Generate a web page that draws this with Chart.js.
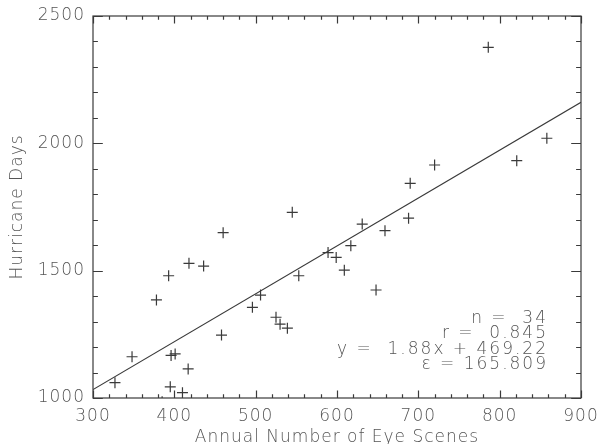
<!DOCTYPE html>
<html>
<head>
<meta charset="utf-8">
<script src="https://cdn.jsdelivr.net/npm/chart.js@4/dist/chart.umd.min.js"></script>
<style>
  html, body { margin: 0; padding: 0; background: #fff; }
  #wrap { width: 598px; height: 444px; }
</style>
</head>
<body>
<div id="wrap"><canvas id="chart" width="598" height="444"></canvas></div>
<script>
// annual number of eye scenes vs hurricane days
const eyeScenes = [327, 348, 378, 393, 418, 436, 396, 401, 417, 395, 410, 385,
  460, 545, 506, 496, 553, 458, 525, 530, 539, 589, 599, 720, 690, 688, 659, 631,
  617, 609, 648, 786, 858, 821];
const hurricaneDays = [1060, 1162, 1385, 1480, 1529, 1518, 1167, 1173, 1114, 1044,
  1021, 985, 1649, 1729, 1404, 1356, 1480, 1247, 1317, 1290, 1274, 1571, 1552,
  1915, 1843, 1706, 1657, 1683, 1598, 1502, 1424, 2377, 2020, 1932];

// least squares line, ends as drawn
const fitX = [300, 900];
const fitY = [1033, 2161];

const xTicks = [300, 400, 500, 600, 700, 800, 900];
const yTicks = [1000, 1500, 2000, 2500];
const statLines = ['n =  34', 'r =  0.845', 'y =  1.88x + 469.22', '\u03B5 = 165.809'];

const ink = '#3a3a3a';
const textInk = '#555';
const fontFamily = "'DejaVu Sans', 'Liberation Sans', sans-serif";

Chart.defaults.font.family = fontFamily;
Chart.defaults.color = textInk;

// IDL style box: inward ticks on all four sides + fit stats
const boxPlugin = {
  id: 'box',
  beforeDraw(chart) {
    // the old hershey font is set wide
    chart.ctx.letterSpacing = '1px';
  },
  afterDatasetsDraw(chart) {
    const { ctx, chartArea: a, scales: { x, y } } = chart;
    ctx.save();
    ctx.strokeStyle = ink;
    ctx.lineWidth = 1.2;
    ctx.strokeRect(a.left, a.top, a.right - a.left, a.bottom - a.top);
    ctx.beginPath();
    for (let v = x.min; v <= x.max; v += 20) {
      const px = Math.round(x.getPixelForValue(v)) + 0.5;
      const len = v % 100 === 0 ? 7.5 : 3.8;
      ctx.moveTo(px, a.bottom); ctx.lineTo(px, a.bottom - len);
      ctx.moveTo(px, a.top); ctx.lineTo(px, a.top + len);
    }
    for (let v = y.min; v <= y.max; v += 100) {
      const py = Math.round(y.getPixelForValue(v)) + 0.5;
      const len = v % 500 === 0 ? 9.8 : 4.9;
      ctx.moveTo(a.left, py); ctx.lineTo(a.left + len, py);
      ctx.moveTo(a.right, py); ctx.lineTo(a.right - len, py);
    }
    ctx.stroke();

    ctx.fillStyle = textInk;
    ctx.font = '300 17px ' + fontFamily;
    ctx.letterSpacing = '2px';
    ctx.textAlign = 'right';
    ctx.textBaseline = 'alphabetic';
    const right = a.right - 33;
    statLines.forEach((s, i) => {
      ctx.fillText(s, right, a.bottom - 75 + i * 15.3);
    });
    ctx.restore();
  }
};

new Chart(document.getElementById('chart'), {
  type: 'scatter',
  data: {
    datasets: [{
      label: 'years',
      data: eyeScenes.map((v, i) => ({ x: v, y: hurricaneDays[i] })),
      pointStyle: 'cross',
      radius: 5.5,
      hoverRadius: 5.5,
      borderColor: ink,
      borderWidth: 1.2,
      backgroundColor: ink
    }, {
      type: 'line',
      label: 'fit',
      data: fitX.map((v, i) => ({ x: v, y: fitY[i] })),
      borderColor: ink,
      borderWidth: 1.2,
      pointRadius: 0,
      fill: false
    }]
  },
  options: {
    responsive: false,
    animation: false,
    layout: { padding: { top: 16, right: 17, bottom: 0, left: 0 } },
    plugins: { legend: { display: false }, tooltip: { enabled: false } },
    scales: {
      x: {
        type: 'linear',
        min: 300,
        max: 900,
        afterBuildTicks: s => { s.ticks = xTicks.map(v => ({ value: v })); },
        afterFit: s => { s.height = 46; s.paddingLeft = 0; s.paddingRight = 0; },
        grid: { display: false, drawTicks: false },
        border: { display: false },
        ticks: { padding: 8, font: { size: 17, weight: 300 }, color: textInk, callback: v => String(v) },
        title: {
          display: true,
          text: 'Annual Number of Eye Scenes',
          font: { size: 17, weight: 300 },
          color: textInk,
          padding: { top: 0, bottom: -4 }
        }
      },
      y: {
        type: 'linear',
        min: 1000,
        max: 2500,
        afterBuildTicks: s => { s.ticks = yTicks.map(v => ({ value: v })); },
        afterFit: s => { s.width = 93; s.paddingTop = 0; s.paddingBottom = 0; },
        grid: { display: false, drawTicks: false },
        border: { display: false },
        ticks: { padding: 8, font: { size: 17, weight: 300 }, color: textInk, callback: v => String(v) },
        title: {
          display: true,
          text: 'Hurricane Days',
          font: { size: 17, weight: 300 },
          color: textInk,
          padding: { top: 7, bottom: 0 }
        }
      }
    }
  },
  plugins: [boxPlugin]
});
</script>
</body>
</html>
